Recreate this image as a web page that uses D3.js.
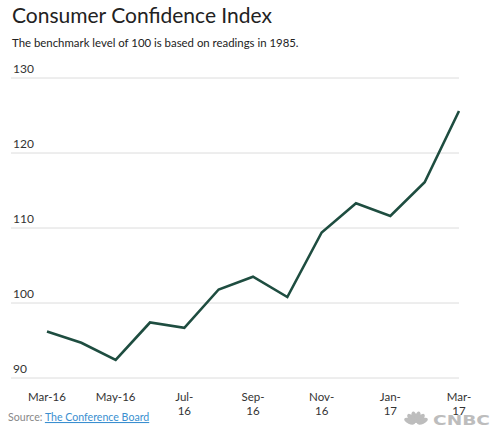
<!DOCTYPE html>
<html><head><meta charset="utf-8">
<script src="https://cdn.jsdelivr.net/npm/d3@7"></script>
<style>
body{margin:0;background:#fff;}
svg{display:block;font-family:Lato, "Open Sans", sans-serif;}
</style></head>
<body><svg id="c" width="494" height="430"></svg>
<script>
const months = ["Mar-16","Apr-16","May-16","Jun-16","Jul-16","Aug-16","Sep-16","Oct-16","Nov-16","Dec-16","Jan-17","Feb-17","Mar-17"];
const values = [96.2,94.7,92.4,97.4,96.7,101.8,103.5,100.8,109.4,113.3,111.6,116.1,125.6];
const yTicks = [90,100,110,120,130];
const xLabels = [["Mar-16"],["May-16"],["Jul-","16"],["Sep-","16"],["Nov-","16"],["Jan-","17"],["Mar-","17"]];
const xLabelIdx = [0,2,4,6,8,10,12];

const svg = d3.select("#c");
const x = d3.scalePoint().domain(d3.range(months.length)).range([47,459]);
const y = d3.scaleLinear().domain([90,130]).range([378,78]);

svg.append("text").attr("x",12).attr("y",23).attr("font-size",21).attr("fill","#222").text("Consumer Confidence Index");
svg.append("text").attr("x",12).attr("y",47).attr("font-size",11.4).attr("fill","#222").text("The benchmark level of 100 is based on readings in 1985.");

const g = svg.append("g");
yTicks.forEach(t=>{
  g.append("line").attr("x1",11).attr("x2",459).attr("y1",y(t)).attr("y2",y(t)).attr("stroke","#dcdcdc").attr("stroke-width",1);
  g.append("text").attr("x",13).attr("y",y(t)-5).attr("font-size",12).attr("fill","#333").text(t);
});

xLabelIdx.forEach((idx,i)=>{
  const t = g.append("text").attr("x",x(idx)).attr("y",401).attr("text-anchor","middle").attr("font-size",11.5).attr("fill","#333");
  xLabels[i].forEach((s,j)=>t.append("tspan").attr("x",x(idx)).attr("dy",j?14:0).text(s));
});

g.append("path").datum(values).attr("fill","none").attr("stroke","#1e4d40").attr("stroke-width",2.6)
  .attr("stroke-linejoin","miter")
  .attr("d",d3.line().x((d,i)=>x(i)).y(d=>y(d)));

const src = svg.append("text").attr("x",8).attr("y",421).attr("font-size",10.6);
src.append("tspan").attr("fill","#888").text("Source: ");
src.append("tspan").attr("fill","#3a8fd0").attr("text-decoration","underline").text("The Conference Board");

// CNBC logo
const logo = svg.append("g").attr("fill","#bdbdbd");
const cx=416, cy=424;
[-66,-40,-14,14,40,66].forEach(a=>{
  logo.append("ellipse").attr("cx",cx).attr("cy",cy-7).attr("rx",2.8).attr("ry",5.8)
   .attr("transform",`rotate(${a},${cx},${cy})`);
});
logo.append("text").attr("x",433).attr("y",424.5).attr("font-size",14).attr("font-weight","900")
  .attr("font-family","'DejaVu Sans', sans-serif").attr("textLength",57).attr("lengthAdjust","spacingAndGlyphs").text("CNBC");
</script></body></html>
